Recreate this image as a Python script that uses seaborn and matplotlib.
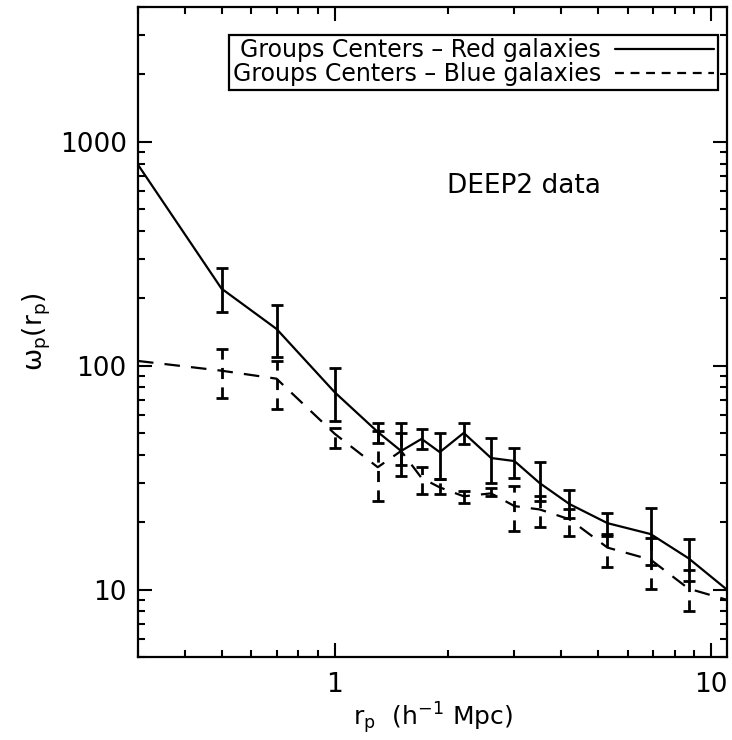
import numpy as np
import pandas as pd
import matplotlib
matplotlib.use("Agg")
import matplotlib.pyplot as plt
import matplotlib.ticker as mticker
import seaborn as sns

# ---- data ----
rp_red = [0.3, 0.5, 0.7, 1.0, 1.3, 1.5, 1.7, 1.9, 2.2, 2.6, 3.0, 3.5, 4.2, 5.3, 6.9, 8.7, 11.0]
wp_red = [790, 221, 146, 76, 50.6, 41.6, 47.1, 41.1, 50.1, 38.7, 37.5, 29.9, 24.1, 19.8, 17.7, 13.8, 10.0]
wp_red_hi = [np.nan, 272, 186, 98, 55.5, 55.5, 52.2, 50.1, 55.5, 47.5, 42.9, 37.1, 27.8, 21.9, 23.1, 16.9, np.nan]
wp_red_lo = [np.nan, 173, 109, 56.6, 45.2, 32.1, 42.5, 31.1, 44.7, 29.9, 31.5, 24.8, 20.8, 17.3, 12.9, 10.9, np.nan]

rp_blue = [0.3, 0.5, 0.7, 1.0, 1.3, 1.5, 1.7, 1.9, 2.2, 2.6, 3.0, 3.5, 4.2, 5.3, 6.9, 8.7, 11.0]
wp_blue = [105, 95, 87.5, 49.6, 35.2, 41.6, 31.5, 28.6, 26.1, 26.9, 23.6, 22.8, 20.6, 15.4, 13.6, 10.1, 9.0]
wp_blue_hi = [np.nan, 119, 105, 52.8, 51.1, 50.0, 35.2, 31.1, 27.5, 28.4, 29.0, 26.1, 22.8, 17.8, 17.0, 12.2, np.nan]
wp_blue_lo = [np.nan, 72, 64, 42.9, 24.8, 36.0, 26.7, 26.7, 24.3, 26.1, 18.2, 19.0, 17.3, 12.6, 10.1, 8.0, np.nan]

labels = ["Groups Centers \u2013 Red galaxies", "Groups Centers \u2013 Blue galaxies"]
x_ticks = [1, 10]
y_ticks = [10, 100, 1000]

# ---- figure ----
sns.set_theme(style="ticks")
plt.rcParams["font.family"] = ["DejaVu Sans"]
plt.rcParams["mathtext.fontset"] = "dejavusans"
for k in ["text.color", "axes.labelcolor", "xtick.color", "ytick.color", "axes.edgecolor"]:
    plt.rcParams[k] = "black"

fig = plt.figure(figsize=(7.32, 7.40), dpi=100)
ax = fig.add_axes([0.1885, 0.1122, 0.8045, 0.8783])

df_red = pd.DataFrame({"rp": rp_red, "wp": wp_red})
df_blue = pd.DataFrame({"rp": rp_blue, "wp": wp_blue})

sns.lineplot(data=df_red, x="rp", y="wp", ax=ax, color="black", lw=1.6,
             label=labels[0], sort=False)
sns.lineplot(data=df_blue, x="rp", y="wp", ax=ax, color="black", lw=1.6,
             label=labels[1], sort=False, dashes=False)
ax.lines[1].set_dashes((7, 5))

def errbars(x, y, hi, lo, ls):
    x = np.array(x); y = np.array(y); hi = np.array(hi); lo = np.array(lo)
    m = ~np.isnan(hi)
    yerr = np.vstack([y[m] - lo[m], hi[m] - y[m]])
    eb = ax.errorbar(x[m], y[m], yerr=yerr, fmt="none", ecolor="black",
                     elinewidth=2.0, capsize=4, capthick=2.0)
    if ls != "-":
        for c in eb[2]:
            c.set_linestyle((0, (4, 3)))

errbars(rp_red, wp_red, wp_red_hi, wp_red_lo, "-")
errbars(rp_blue, wp_blue, wp_blue_hi, wp_blue_lo, "--")

ax.set_xscale("log")
ax.set_yscale("log")
ax.set_xlim(0.3, 11.0)
ax.set_ylim(5, 4000)

ax.xaxis.set_major_locator(mticker.FixedLocator(x_ticks))
ax.xaxis.set_major_formatter(mticker.FixedFormatter([str(t) for t in x_ticks]))
ax.xaxis.set_minor_locator(mticker.LogLocator(base=10, subs=np.arange(2, 10)))
ax.xaxis.set_minor_formatter(mticker.NullFormatter())
ax.yaxis.set_major_locator(mticker.FixedLocator(y_ticks))
ax.yaxis.set_major_formatter(mticker.FixedFormatter([str(t) for t in y_ticks]))
ax.yaxis.set_minor_locator(mticker.LogLocator(base=10, subs=np.arange(2, 10)))
ax.yaxis.set_minor_formatter(mticker.NullFormatter())

ax.tick_params(which="both", direction="in", top=True, right=True, width=1.5, color="black")
ax.tick_params(which="major", length=10, labelsize=19)
ax.tick_params(axis="x", which="major", pad=11)
ax.tick_params(axis="y", which="major", pad=8)
ax.tick_params(which="minor", length=5)
for s in ax.spines.values():
    s.set_linewidth(1.6)
    s.set_color("black")

ax.set_xlabel(r"$\mathregular{r_p\ \ (h^{-1}\ Mpc)}$", fontsize=18, labelpad=1)
ax.set_ylabel(r"$\mathregular{\omega_p(r_p)}$", fontsize=19, labelpad=5)

ax.text(0.525, 0.725, "DEEP2 data", transform=ax.transAxes, fontsize=19, ha="left", va="center")

leg = ax.legend(loc="upper right", bbox_to_anchor=(0.997, 0.968), frameon=True, fancybox=False,
                fontsize=17, markerfirst=False, handlelength=4.2, borderpad=0.15,
                labelspacing=0.0, handletextpad=0.6, borderaxespad=0.3)
leg.get_frame().set_edgecolor("black")
leg.get_frame().set_linewidth(1.6)
leg.get_frame().set_alpha(1)
leg.legend_handles[1].set_dashes((4, 3))

fig.savefig("out.png", dpi=100)
